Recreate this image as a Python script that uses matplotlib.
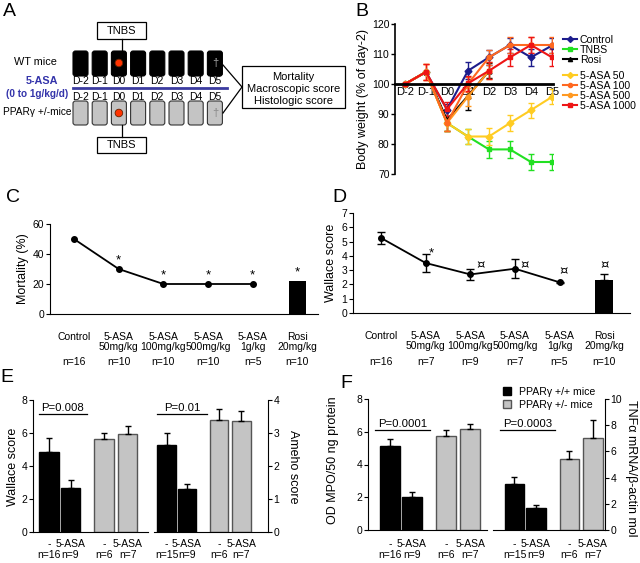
import numpy as np
import matplotlib
matplotlib.use('Agg')
import matplotlib.pyplot as plt
from matplotlib.patches import FancyBboxPatch, Rectangle, Circle, Patch
from matplotlib.lines import Line2D
import matplotlib.transforms as mtransforms

plt.rcParams['font.family'] = ['Liberation Sans', 'DejaVu Sans']

# ---------------- data ----------------
days = ['D-2', 'D-1', 'D0', 'D1', 'D2', 'D3', 'D4', 'D5']
nan = np.nan
bw_control = [100, 104, 91.5, 104.4, 108.9, 113, 108.9, 112.8]
bw_control_err = [0, 0, 2, 2.8, 2.5, 2.5, 2.8, 2.5]
bw_tnbs = [100, 104, 87, 82.5, 78.2, 78.2, 74, 74]
bw_tnbs_err = [0, 0, 2.5, 2.5, 2.8, 2.8, 2.8, 2.8]
bw_rosi = [100, 104, 88, 96, 104.4, nan, nan, nan]
bw_rosi_err = [0, 0, 3.5, 4.5, 2.5, 0, 0, 0]
bw_asa50 = [100, 104, 87, 82.5, 82.5, 87, 91.3, 95.7]
bw_asa50_err = [0, 0, 2.5, 2.5, 2.8, 2.8, 2.5, 2.5]
bw_asa100 = [100, 104, 87, 100, 108.9, 113, 113, 113]
bw_asa100_err = [0, 2.8, 2.5, 2.5, 2.5, 2.8, 2.8, 2.8]
bw_asa500 = [100, 104, 87, 95.8, 104.4, nan, nan, nan]
bw_asa500_err = [0, 2.8, 2.5, 3, 2.8, 0, 0, 0]
bw_asa1000 = [100, 104, 91.6, 100.2, 104.4, 108.9, 113, 108.9]
bw_asa1000_err = [0, 2.8, 2.3, 2.5, 2.8, 2.8, 2.8, 2.8]

groups = ['Control', '5-ASA\n50mg/kg', '5-ASA\n100mg/kg', '5-ASA\n500mg/kg',
          '5-ASA\n1g/kg', 'Rosi\n20mg/kg']
mort_n = ['n=16', 'n=10', 'n=10', 'n=10', 'n=5', 'n=10']
mortality = [50, 30, 20, 20, 20]
mortality_rosi = 22
mort_marks = ['', '*', '*', '*', '*', '*']

wallace_n = ['n=16', 'n=7', 'n=9', 'n=7', 'n=5', 'n=10']
wallace = [5.25, 3.5, 2.7, 3.1, 2.15]
wallace_err = [0.45, 0.65, 0.4, 0.65, 0.05]
wallace_rosi = 2.3
wallace_rosi_err = 0.4
wallace_marks = ['', '*', '¤', '¤', '¤', '¤']

bar_labels = ['-', '5-ASA', '-', '5-ASA']
e_wallace = [4.85, 2.65, 5.65, 5.95]
e_wallace_err = [0.85, 0.5, 0.35, 0.45]
e_wallace_n = ['n=16', 'n=9', 'n=6', 'n=7']
e_ameho = [2.63, 1.3, 3.4, 3.35]
e_ameho_err = [0.37, 0.15, 0.33, 0.33]
e_ameho_n = ['n=15', 'n=9', 'n=6', 'n=7']
f_mpo = [5.1, 2.0, 5.75, 6.15]
f_mpo_err = [0.45, 0.3, 0.35, 0.3]
f_mpo_n = ['n=16', 'n=9', 'n=6', 'n=7']
f_tnf = [3.5, 1.65, 5.45, 7.05]
f_tnf_err = [0.55, 0.25, 0.55, 1.35]
f_tnf_n = ['n=15', 'n=9', 'n=6', 'n=7']

W, H = 640, 563
fig = plt.figure(figsize=(6.4, 5.63), dpi=100)


def px_axes(l, t, r, b, **kw):
    return fig.add_axes([l / W, 1 - b / H, (r - l) / W, (b - t) / H], **kw)


TS = 7.5  # tick size
LS = 9    # label size
CS = 7.5  # category label size

# ---------------- overlay for panel A & text ----------------
ov = fig.add_axes([0, 0, 1, 1], zorder=10)
ov.set_xlim(0, W)
ov.set_ylim(H, 0)
ov.axis('off')
ov.patch.set_alpha(0)

for letter, (x, y) in {'A': (9, 12), 'B': (362, 12), 'C': (13, 197), 'D': (339, 197),
                       'E': (7, 378), 'F': (346, 383)}.items():
    ov.text(x, y, letter, fontsize=14, ha='center', va='center')

# schematic
centers = [80.5 + 19.2 * i for i in range(8)]
for cx in centers:
    ov.add_patch(FancyBboxPatch((cx - 7.5, 51), 15, 25, boxstyle='round,pad=0,rounding_size=2.5',
                                facecolor='black', edgecolor='black', lw=0.8))
    ov.add_patch(FancyBboxPatch((cx - 7.5, 101), 15, 24, boxstyle='round,pad=0,rounding_size=2.5',
                                facecolor='#c4c4c4', edgecolor='#333333', lw=0.8))
for i, d in enumerate(days):
    ov.text(centers[i], 81.5, d, fontsize=7.5, ha='center', va='center')
    ov.text(centers[i], 96.5, d, fontsize=7.5, ha='center', va='center')
ov.add_patch(Circle((centers[2], 63), 3.8, facecolor='#ff3300', edgecolor='#662200', lw=0.6))
ov.add_patch(Circle((centers[2], 113), 3.8, facecolor='#ff3300', edgecolor='#662200', lw=0.6))
ov.text(centers[7], 63, '†', fontsize=8, color='#aaaaaa', ha='center', va='center')
ov.text(centers[7], 113, '†', fontsize=8, color='#888888', ha='center', va='center')
ov.plot([73, 227], [88, 88], color='#3b3ba0', lw=2)
ov.text(42, 81, '5-ASA', fontsize=7.8, fontweight='bold', color='#3333aa', ha='center', va='center')
ov.text(37.5, 94, '(0 to 1g/kg/d)', fontsize=7.2, fontweight='bold', color='#3333aa', ha='center', va='center')
ov.text(35, 62, 'WT mice', fontsize=7.8, ha='center', va='center')
ov.text(37, 112, 'PPARγ +/-mice', fontsize=7.3, ha='center', va='center')
for (t, b) in [(22, 39), (137, 153)]:
    ov.add_patch(Rectangle((97, t), 49, b - t, facecolor='white', edgecolor='black', lw=0.9))
    ov.text(121.5, (t + b) / 2, 'TNBS', fontsize=8, ha='center', va='center')
ov.plot([121.5, 121.5], [39, 51], color='black', lw=0.9)
ov.plot([121.5, 121.5], [125, 137], color='black', lw=0.9)
ov.add_patch(Rectangle((242, 66), 103, 42, facecolor='white', edgecolor='black', lw=0.9))
for txt, y in [('Mortality', 77), ('Macroscopic score', 89), ('Histologic score', 101)]:
    ov.text(293.5, y, txt, fontsize=8, ha='center', va='center')
ov.plot([223, 242, 223], [65, 87, 113], color='black', lw=0.9)

# ---------------- panel B ----------------
axB = px_axes(395, 24, 553, 174)
xb = np.arange(len(days))
series = [
    ('Control', bw_control, bw_control_err, '#1c1c8c', 'D'),
    ('TNBS', bw_tnbs, bw_tnbs_err, '#22e022', 's'),
    ('Rosi', bw_rosi, bw_rosi_err, 'black', '^'),
    ('5-ASA 50', bw_asa50, bw_asa50_err, '#ffcc22', 'D'),
    ('5-ASA 500', bw_asa500, bw_asa500_err, '#ff9922', 'o'),
    ('5-ASA 100', bw_asa100, bw_asa100_err, '#ff6820', 'o'),
    ('5-ASA 1000', bw_asa1000, bw_asa1000_err, '#ee1515', 's'),
]
handles = {}
for name, vals, err, col, mk in series:
    axB.errorbar(xb, vals, yerr=err, color=col, marker=mk, ms=3.5, lw=1.5,
                 elinewidth=1, capsize=2, capthick=1)
    handles[name] = Line2D([], [], color=col, marker=mk, ms=3, lw=1.5)
axB.set_xlim(-0.476, 7.05)
axB.set_ylim(70, 120)
axB.set_yticks([70, 80, 90, 100, 110, 120])
axB.spines['top'].set_visible(False)
axB.spines['right'].set_visible(False)
axB.spines['bottom'].set_position(('data', 100))
axB.spines['bottom'].set_linewidth(2)
axB.spines['left'].set_linewidth(1.2)
axB.set_xticks(xb)
axB.set_xticklabels(days, fontsize=8)
axB.tick_params(axis='x', length=0, pad=2)
axB.tick_params(axis='y', labelsize=TS, length=3, width=1, pad=1)
axB.set_ylabel('Body weight (% of day-2)', fontsize=LS, labelpad=2)
leg_kw = dict(frameon=False, fontsize=7.6, handlelength=1.3, handletextpad=0.3,
              labelspacing=0.0, borderpad=0, borderaxespad=0, loc='upper left')
names1 = ['Control', 'TNBS', 'Rosi']
names2 = ['5-ASA 50', '5-ASA 100', '5-ASA 500', '5-ASA 1000']
fig.legend([handles[n] for n in names1], names1, bbox_to_anchor=(563 / W, 1 - 35 / H), **leg_kw)
fig.legend([handles[n] for n in names2], names2, bbox_to_anchor=(563 / W, 1 - 71 / H), **leg_kw)


def cat_axes(ax, n_labels, xl):
    ax.spines['top'].set_visible(False)
    ax.spines['right'].set_visible(False)
    ax.set_xticks(range(len(groups)))
    ax.set_xticklabels(groups, fontsize=CS, linespacing=0.95)
    ax.tick_params(axis='x', length=0, pad=13)
    ax.tick_params(axis='y', labelsize=TS, length=3, pad=1)
    ax.set_xlim(*xl)
    tr = mtransforms.blended_transform_factory(ax.transData, fig.transFigure)
    for i, t in enumerate(n_labels):
        ax.text(i, 1 - 362 / H, t, fontsize=CS, ha='center', va='center', transform=tr)


# ---------------- panel C ----------------
axC = px_axes(50, 224, 318, 314)
xc = np.arange(len(mortality))
axC.plot(xc, mortality, color='black', marker='o', ms=4, lw=1.3)
axC.bar(5, mortality_rosi, width=0.4, color='black')
for i, m in enumerate(mort_marks):
    v = mortality[i] if i < len(mortality) else mortality_rosi
    if m:
        axC.text(i, v + 5.5, m, fontsize=9.5, ha='center', va='center')
axC.set_ylim(0, 60)
axC.set_yticks([0, 20, 40, 60])
cat_axes(axC, mort_n, (-0.537, 5.46))
axC.set_ylabel('Mortality (%)', fontsize=LS, labelpad=3)

# ---------------- panel D ----------------
axD = px_axes(353, 213, 630, 313)
xd = np.arange(len(wallace))
axD.errorbar(xd, wallace, yerr=wallace_err, color='black', marker='o', ms=4, lw=1.3,
             elinewidth=1, capsize=3, capthick=1)
axD.bar(5, wallace_rosi, width=0.4, color='black', yerr=[[0], [wallace_rosi_err]],
        error_kw=dict(elinewidth=1, capsize=3, capthick=1))
mark_pos = {1: (0.12, 4.2), 2: (0.22, 3.35), 3: (0.22, 3.35), 4: (0.1, 2.95), 5: (0, 3.35)}
for i, m in enumerate(wallace_marks):
    if m:
        dx, y = mark_pos[i]
        axD.text(i + dx, y, m, fontsize=9.5, ha='center', va='center',
                 family=['DejaVu Sans'] if m == '¤' else None)
axD.set_ylim(0, 7)
axD.set_yticks(range(8))
cat_axes(axD, wallace_n, (-0.63, 5.58))
axD.set_ylabel('Wallace score', fontsize=LS, labelpad=3)

# ---------------- panels E & F ----------------
pos = [0, 1, 2.55, 3.65]
cols = ['black', 'black', '#c4c4c4', '#c4c4c4']
edges = ['black', 'black', '#555555', '#555555']


def bar_axes(box, vals, errs, nl, ylim, yticks, xl, side):
    ax = px_axes(*box)
    ax.bar(pos, vals, width=0.9, color=cols, edgecolor=edges, lw=1,
           yerr=[[0] * 4, errs], error_kw=dict(elinewidth=1, capsize=2.5, capthick=1, ecolor='black'))
    ax.set_xlim(*xl)
    ax.set_ylim(*ylim)
    ax.set_yticks(yticks)
    ax.set_xticks([])
    ax.spines['top'].set_visible(False)
    other = 'right' if side == 'left' else 'left'
    ax.spines[other].set_visible(False)
    if side == 'right':
        ax.yaxis.tick_right()
    ax.tick_params(axis='y', labelsize=TS, length=3, pad=1)
    tr = mtransforms.blended_transform_factory(ax.transData, fig.transFigure)
    for p, lab, n in zip(pos, bar_labels, nl):
        ax.text(p, 1 - 544 / H, lab, fontsize=CS, ha='center', va='center', transform=tr)
        ax.text(p, 1 - 555.5 / H, n, fontsize=CS, ha='center', va='center', transform=tr)
    return ax


bar_axes((33, 400, 148, 532), e_wallace, e_wallace_err, e_wallace_n, (0, 8), [0, 2, 4, 6, 8], (-0.744, 4.6), 'left')
bar_axes((154, 400, 268, 532), e_ameho, e_ameho_err, e_ameho_n, (0, 4), [0, 1, 2, 3, 4], (-0.61, 4.95), 'right')
bar_axes((368, 399, 487, 530), f_mpo, f_mpo_err, f_mpo_n, (0, 8), [0, 2, 4, 6, 8], (-1.0, 4.41), 'left')
bar_axes((493, 399, 605, 530), f_tnf, f_tnf_err, f_tnf_n, (0, 10), [0, 2, 4, 6, 8, 10], (-1.0, 4.21), 'right')

ov.text(13, 467, 'Wallace score', fontsize=LS, rotation=90, ha='center', va='center')
ov.text(293, 467, 'Ameho score', fontsize=LS, rotation=270, ha='center', va='center')
ov.text(333, 460, 'OD MPO/50 ng protein', fontsize=LS, rotation=90, ha='center', va='center')
ov.text(631, 468, 'TNFα mRNA/β-actin mol', fontsize=LS, rotation=270, ha='center', va='center')

for txt, cx, y, x0, x1 in [('P=0.008', 63, 408, 39, 87), ('P=0.01', 182, 408, 157, 207),
                           ('P=0.0001', 402.5, 424, 375, 430), ('P=0.0003', 527.5, 424, 500, 555)]:
    ov.text(cx, y, txt, fontsize=8.2, ha='center', va='center')
    ov.plot([x0, x1], [y + 6, y + 6], color='black', lw=0.9)

fig.legend([Patch(facecolor='black', edgecolor='black'), Patch(facecolor='#c4c4c4', edgecolor='#555555')],
           ['PPARγ +/+ mice', 'PPARγ +/- mice'], loc='upper left', bbox_to_anchor=(503 / W, 1 - 387 / H),
           frameon=False, fontsize=7.6, handlelength=0.8, handleheight=0.8, labelspacing=0.25,
           handletextpad=0.7, borderpad=0, borderaxespad=0)

fig.savefig('out.png', dpi=100)
